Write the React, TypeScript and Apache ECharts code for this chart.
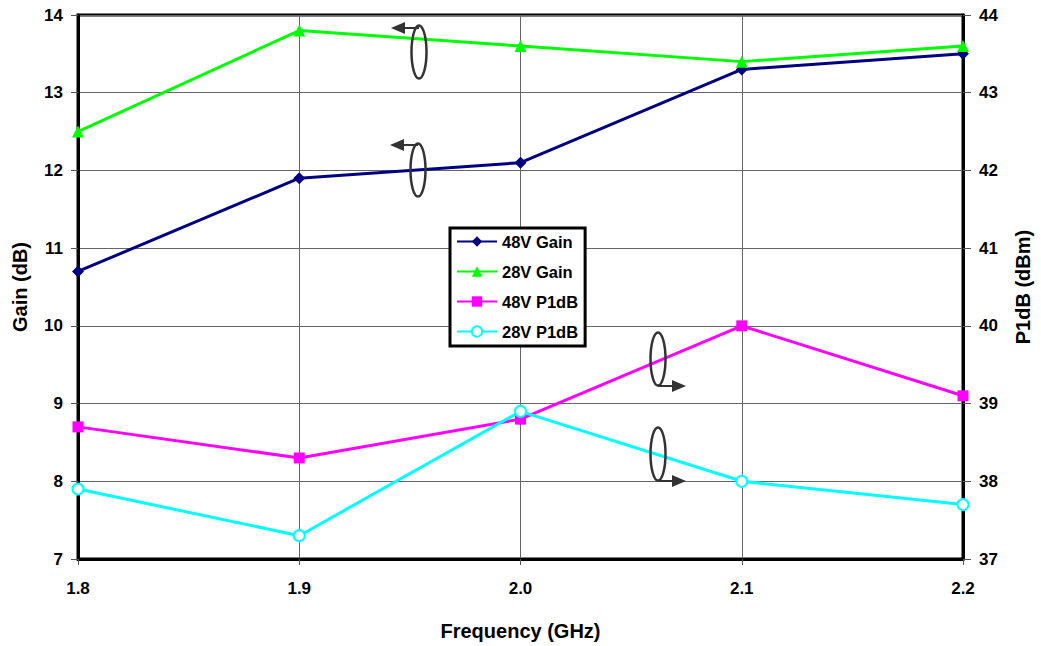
import React, { useEffect, useRef } from "react";
import * as echarts from "echarts";

const categories = ["1.8", "1.9", "2.0", "2.1", "2.2"];
const gain48 = [10.7, 11.9, 12.1, 13.3, 13.5];
const gain28 = [12.5, 13.8, 13.6, 13.4, 13.6];
const p1db48 = [38.7, 38.3, 38.8, 40.0, 39.1];
const p1db28 = [37.9, 37.3, 38.9, 38.0, 37.7];

const FONT = "'Liberation Sans', Arial, sans-serif";

function ellipseMark(cx: number, cy: number, arrowY: number, dir: number) {
  const tip = cx + dir * 28;
  return [
    {
      type: "ellipse",
      shape: { cx, cy, rx: 7.5, ry: 26.5 },
      style: { fill: "none", stroke: "#333", lineWidth: 2.5 },
      z: 100,
    },
    {
      type: "line",
      shape: { x1: cx, y1: arrowY, x2: tip - dir * 12, y2: arrowY },
      style: { stroke: "#333", lineWidth: 2 },
      z: 100,
    },
    {
      type: "polygon",
      shape: {
        points: [
          [tip, arrowY],
          [tip - dir * 14, arrowY - 6],
          [tip - dir * 14, arrowY + 6],
        ],
      },
      style: { fill: "#333" },
      z: 100,
    },
  ];
}

export default function App() {
  const ref = useRef<HTMLDivElement>(null);
  useEffect(() => {
    const chart = echarts.init(ref.current!, null, { renderer: "svg" });
    const tickLabel = { fontFamily: FONT, fontWeight: "bold", fontSize: 17, color: "#000" };
    const nameStyle = { fontFamily: FONT, fontWeight: "bold", fontSize: 20, color: "#000" };
    chart.setOption({
      animation: false,
      backgroundColor: "#fff",
      grid: {
        left: 78,
        right: 74,
        top: 15,
        bottom: 86,
        show: true,
        borderColor: "#000",
        borderWidth: 3,
      },
      legend: {
        orient: "vertical",
        left: 450,
        top: 228,
        itemWidth: 40,
        itemHeight: 13,
        itemGap: 13,
        padding: [5, 7, 6, 6],
        borderColor: "#000",
        borderWidth: 3,
        backgroundColor: "#fff",
        textStyle: { fontFamily: FONT, fontWeight: "bold", fontSize: 16.5, color: "#000" },
        data: ["48V Gain", "28V Gain", "48V P1dB", "28V P1dB"],
      },
      xAxis: {
        type: "category",
        data: categories,
        boundaryGap: false,
        name: "Frequency (GHz)",
        nameLocation: "middle",
        nameGap: 62,
        nameTextStyle: nameStyle,
        axisLine: { lineStyle: { color: "#000", width: 3 } },
        axisTick: { show: true, length: 6, lineStyle: { color: "#555", width: 1 } },
        axisLabel: { ...tickLabel, margin: 21 },
        splitLine: { show: true, lineStyle: { color: "#666", width: 1 } },
      },
      yAxis: [
        {
          type: "value",
          min: 7,
          max: 14,
          interval: 1,
          name: "Gain (dB)",
          nameLocation: "middle",
          nameGap: 48,
          nameTextStyle: nameStyle,
          axisLine: { show: true, lineStyle: { color: "#000", width: 3 } },
          axisTick: { show: true, length: 7, lineStyle: { color: "#555", width: 1 } },
          axisLabel: { ...tickLabel, margin: 15 },
          splitLine: { show: true, lineStyle: { color: "#666", width: 1 } },
        },
        {
          type: "value",
          min: 37,
          max: 44,
          interval: 1,
          position: "right",
          name: "P1dB (dBm)",
          nameLocation: "middle",
          nameGap: 50,
          nameRotate: 90,
          nameTextStyle: nameStyle,
          axisLine: { show: true, lineStyle: { color: "#000", width: 3 } },
          axisTick: { show: true, length: 8, lineStyle: { color: "#555", width: 1 } },
          axisLabel: { ...tickLabel, margin: 16 },
          splitLine: { show: false },
        },
      ],
      series: [
        {
          name: "48V Gain",
          type: "line",
          yAxisIndex: 0,
          data: gain48,
          symbol: "diamond",
          symbolSize: 12,
          color: "#000080",
          lineStyle: { width: 3, color: "#000080" },
          itemStyle: { color: "#000080" },
        },
        {
          name: "28V Gain",
          type: "line",
          yAxisIndex: 0,
          data: gain28,
          symbol: "triangle",
          symbolSize: 12,
          color: "#00FF00",
          lineStyle: { width: 3, color: "#00FF00" },
          itemStyle: { color: "#00FF00" },
        },
        {
          name: "48V P1dB",
          type: "line",
          yAxisIndex: 1,
          data: p1db48,
          symbol: "rect",
          symbolSize: 11,
          color: "#FF00FF",
          lineStyle: { width: 3, color: "#FF00FF" },
          itemStyle: { color: "#FF00FF" },
        },
        {
          name: "28V P1dB",
          type: "line",
          yAxisIndex: 1,
          data: p1db28,
          symbol: "emptyCircle",
          symbolSize: 11,
          color: "#00FFFF",
          lineStyle: { width: 3, color: "#00FFFF" },
          itemStyle: { color: "#00FFFF", borderWidth: 1.5 },
        },
      ],
      graphic: [
        ...ellipseMark(419, 52, 28, -1),
        ...ellipseMark(418, 170, 145, -1),
        ...ellipseMark(658, 359, 386, 1),
        ...ellipseMark(658, 454, 481, 1),
      ],
    });
    return () => chart.dispose();
  }, []);
  return (
    <div
      ref={ref}
      style={{ position: "fixed", left: 0, top: 0, width: 1041, height: 646 }}
    />
  );
}
